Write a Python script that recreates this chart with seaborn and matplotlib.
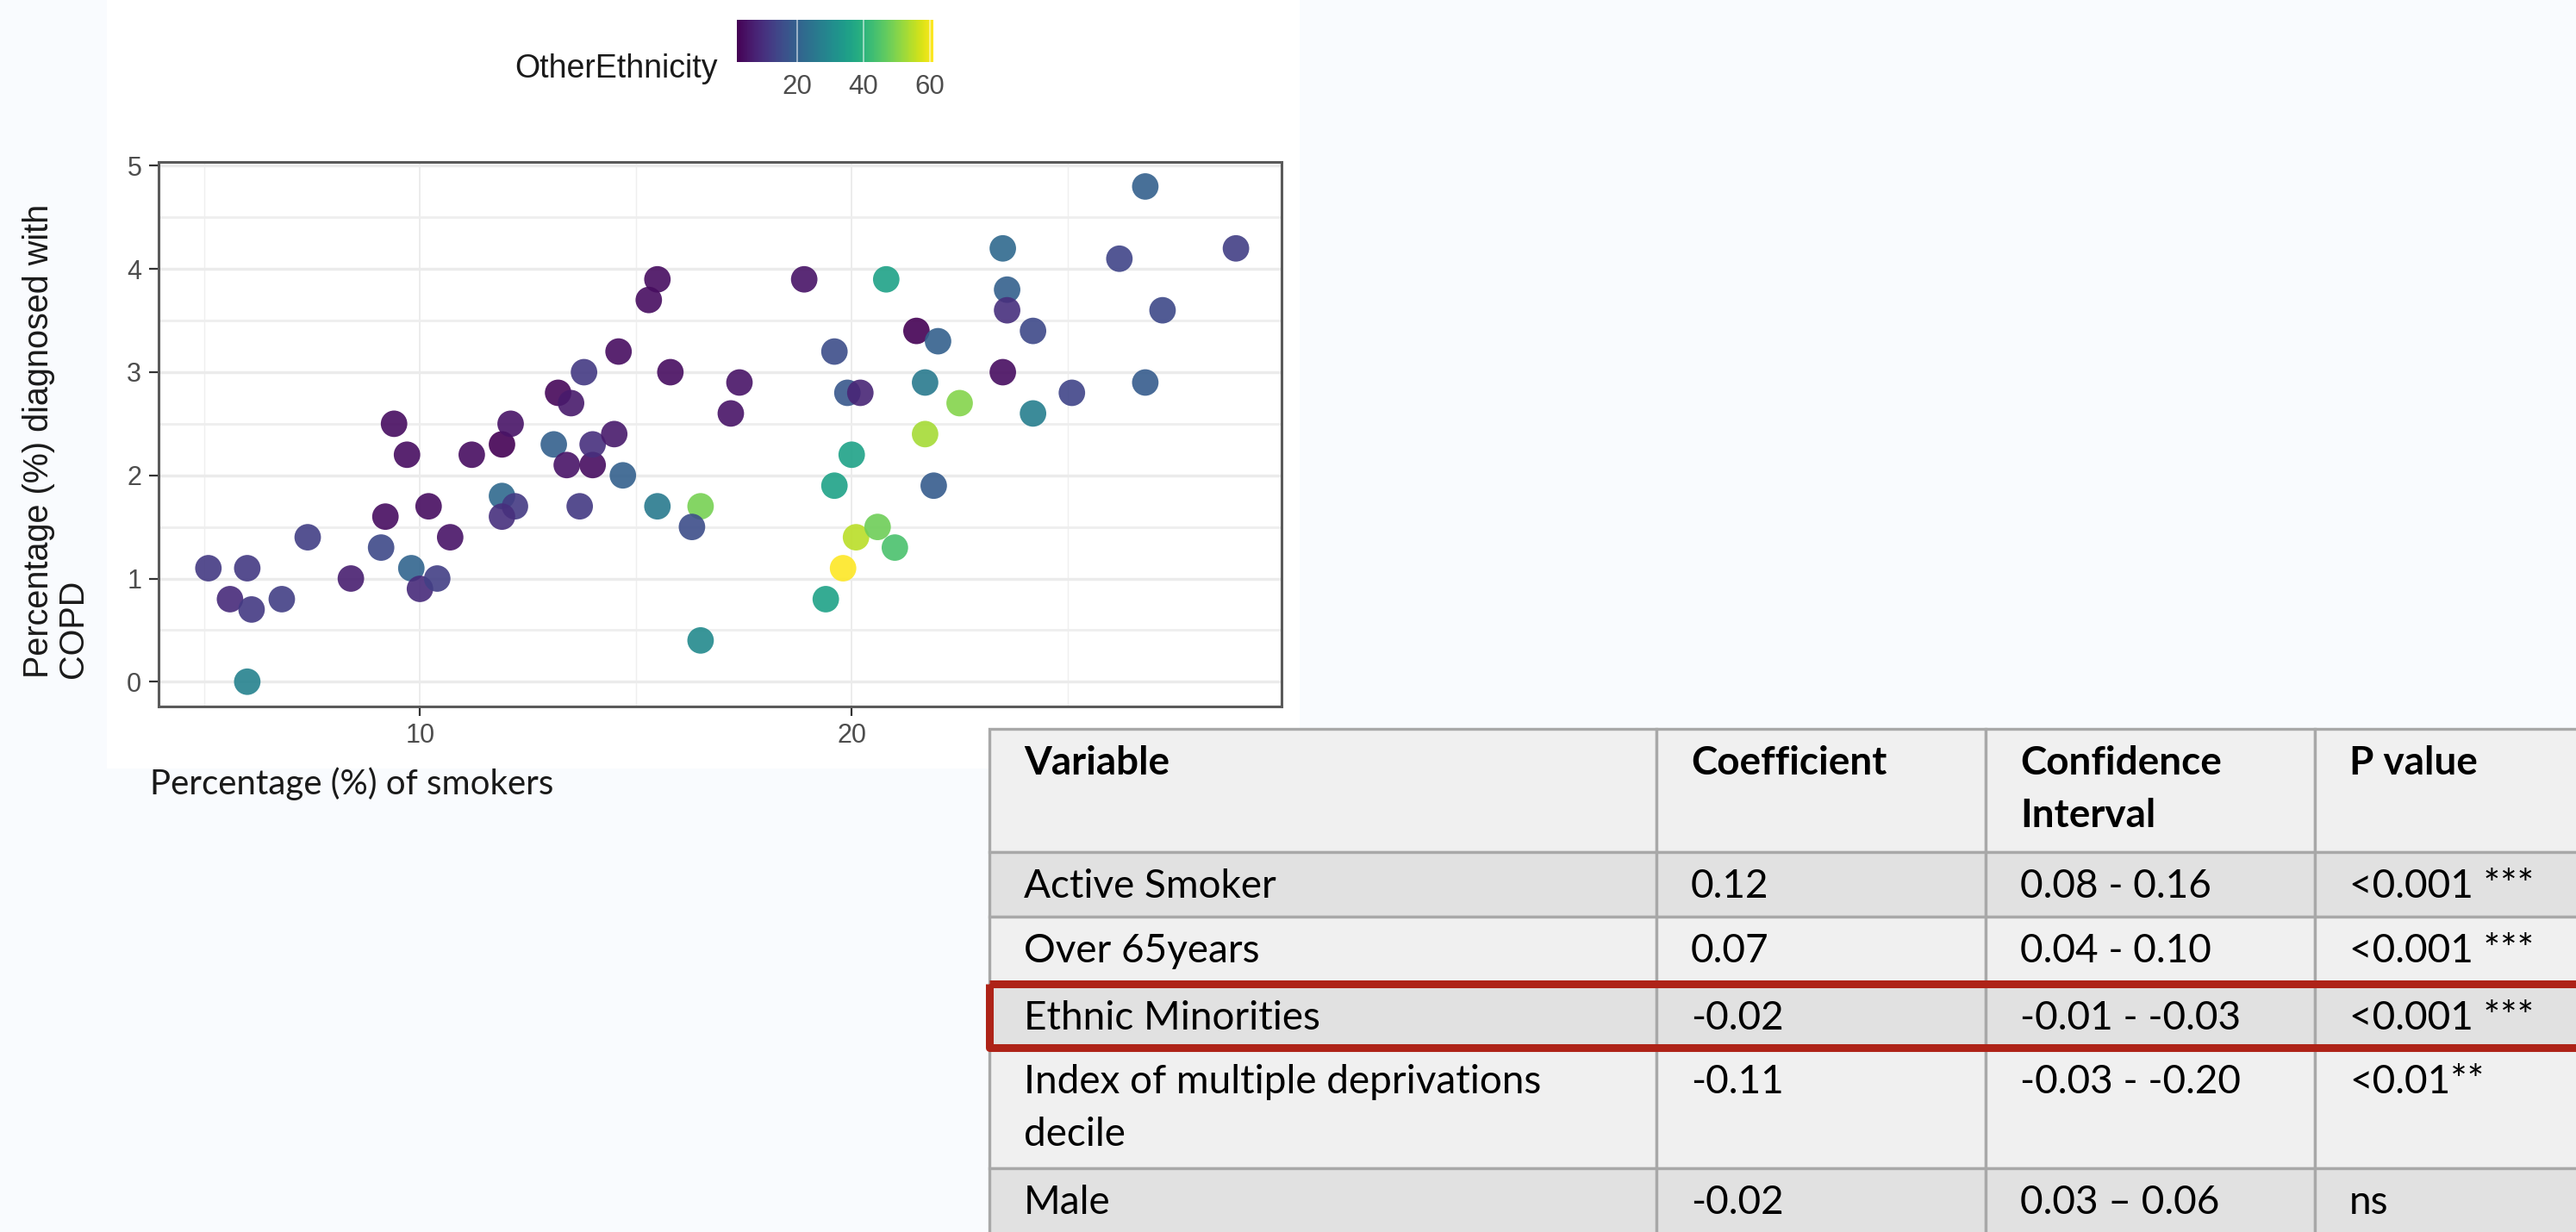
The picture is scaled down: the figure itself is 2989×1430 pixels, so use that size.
import numpy as np
import pandas as pd
import matplotlib
matplotlib.use("Agg")
import matplotlib.pyplot as plt
import matplotlib.patches as mpatches
import matplotlib.colors as mcolors
import matplotlib.cm as cm
import seaborn as sns

# scatter data
smokers = [5.1, 5.6, 6.0, 6.1, 6.8, 6.0, 7.4, 8.4, 9.2, 9.1,
           9.4, 9.7, 9.8, 10.0, 10.2, 10.4, 10.7, 11.2, 11.9, 12.1,
           11.9, 12.2, 11.9, 13.1, 13.2, 13.5, 13.4, 13.8, 14.0, 14.0,
           14.5, 14.6, 14.7, 13.7, 15.3, 15.5, 15.8, 15.5, 16.5, 16.3,
           16.5, 17.2, 17.4, 18.9, 19.6, 19.9, 20.2, 20.0, 19.6, 20.1,
           20.6, 21.0, 19.8, 19.4, 20.8, 21.5, 22.0, 21.7, 22.5, 21.7,
           21.9, 23.5, 23.6, 23.6, 23.5, 24.2, 24.2, 25.1, 26.2, 26.8,
           26.8, 27.2, 28.9]
copd = [1.1, 0.8, 1.1, 0.7, 0.8, 0.0, 1.4, 1.0, 1.6, 1.3,
        2.5, 2.2, 1.1, 0.9, 1.7, 1.0, 1.4, 2.2, 2.3, 2.5,
        1.8, 1.7, 1.6, 2.3, 2.8, 2.7, 2.1, 3.0, 2.1, 2.3,
        2.4, 3.2, 2.0, 1.7, 3.7, 3.9, 3.0, 1.7, 1.7, 1.5,
        0.4, 2.6, 2.9, 3.9, 3.2, 2.8, 2.8, 2.2, 1.9, 1.4,
        1.5, 1.3, 1.1, 0.8, 3.9, 3.4, 3.3, 2.9, 2.7, 2.4,
        1.9, 4.2, 3.8, 3.6, 3.0, 3.4, 2.6, 2.8, 4.1, 4.8,
        2.9, 3.6, 4.2]
other_ethnicity = [12, 9, 12, 12, 13, 28, 13, 7, 4, 15,
                   4, 4, 21, 9, 4, 13, 5, 4, 2, 5,
                   22, 12, 10, 20, 3, 6, 5, 12, 4, 10,
                   6, 4, 20, 12, 4, 4, 4, 26, 49, 16,
                   30, 5, 5, 5, 16, 18, 8, 36, 36, 55,
                   48, 44, 61, 36, 36, 2, 20, 26, 50, 53,
                   19, 22, 20, 10, 4, 15, 27, 14, 14, 20,
                   19, 15, 13]
x_major = [10, 20]
x_minor = [5, 15, 25]
y_major = [0, 1, 2, 3, 4, 5]
y_minor = [0.5, 1.5, 2.5, 3.5, 4.5]
cbar_ticks = [20, 40, 60]

# regression table
col_names = ["Variable", "Coefficient", "Confidence\nInterval", "P value"]
variables = ["Active Smoker", "Over 65years", "Ethnic Minorities",
             "Index of multiple deprivations\ndecile", "Male"]
coefficients = ["0.12", "0.07", "-0.02", "-0.11", "-0.02"]
conf_int = ["0.08 - 0.16", "0.04 - 0.10", "-0.01 - -0.03", "-0.03 - -0.20",
            "0.03 \u2013 0.06"]
p_values = ["<0.001 ***", "<0.001 ***", "<0.001 ***", "<0.01**", "ns"]
highlight_row = 2

df = pd.DataFrame({"smokers": smokers, "copd": copd, "OtherEthnicity": other_ethnicity})

W, H = 2989, 1430
def frac(x0, y0, x1, y1):
    return [x0 / W, 1 - y1 / H, (x1 - x0) / W, (y1 - y0) / H]

sns.set_style("white")
plt.rcParams["font.family"] = ["Liberation Sans", "DejaVu Sans"]

fig = plt.figure(figsize=(W / 100, H / 100), dpi=100, facecolor="#F9FBFE")

back = fig.add_axes([0, 0, 1, 1], zorder=0)
back.set_xlim(0, W)
back.set_ylim(H, 0)
back.axis("off")
back.add_patch(mpatches.Rectangle((124, 0), 1508 - 124, 892, facecolor="white", edgecolor="none"))

# scatter panel
ax = fig.add_axes(frac(183.7, 187.7, 1487.2, 820), zorder=1)
norm = mcolors.Normalize(min(other_ethnicity), max(other_ethnicity))
sns.scatterplot(data=df, x="smokers", y="copd", hue="OtherEthnicity", palette="viridis",
                hue_norm=norm, s=490, linewidth=0, alpha=0.9, legend=False, ax=ax, zorder=3)
ax.set_xlim(3.94, 29.96)
ax.set_ylim(-0.24, 5.04)
ax.set_xticks(x_major)
ax.set_xticks(x_minor, minor=True)
ax.set_yticks(y_major)
ax.set_yticks(y_minor, minor=True)
ax.grid(which="major", axis="y", color="#EBEBEB", lw=2.4)
ax.grid(which="minor", axis="y", color="#EEEEEE", lw=2.0)
ax.grid(which="major", axis="x", color="#EBEBEB", lw=1.3)
ax.grid(which="minor", axis="x", color="#EFEFEF", lw=1.0)
ax.set_axisbelow(True)
ax.tick_params(which="major", length=8, width=1.6, color="#333333", labelsize=22,
               labelcolor="#4D4D4D", pad=6, bottom=True, left=True)
ax.tick_params(which="minor", length=0)
for sp in ax.spines.values():
    sp.set_color("#5A5A5A")
    sp.set_linewidth(2.2)
ax.set_xlabel("")
ax.set_ylabel("")

# colour bar legend
cax = fig.add_axes(frac(855, 23, 1083, 72), zorder=1)
cb = fig.colorbar(cm.ScalarMappable(norm=norm, cmap="viridis"), cax=cax, orientation="horizontal")
cb.set_ticks(cbar_ticks)
cb.outline.set_visible(False)
cax.tick_params(length=0, labelsize=22.5, labelcolor="#4D4D4D", pad=10)
for t in cbar_ticks:
    cax.axvline(t, color="white", lw=1.2, alpha=0.6)
back.text(833, 90, "OtherEthnicity", ha="right", va="baseline", fontsize=27, color="#1A1A1A")

# slide text labels
back.text(65, 787, "Percentage (%) diagnosed with\nCOPD", rotation=90, ha="center", va="bottom",
          multialignment="left", fontsize=28.5, color="#1A1A1A", linespacing=1.05)
back.text(174, 922, "Percentage (%) of smokers", ha="left", va="baseline", fontsize=29,
          family=["Lato", "DejaVu Sans"], color="#1A1A1A")

# table
front = fig.add_axes([0, 0, 1, 1], zorder=2)
front.set_xlim(0, W)
front.set_ylim(H, 0)
front.axis("off")
col_edges = [1148, 1922, 2304, 2686, 3100]
row_edges = [846, 989, 1064, 1142, 1216, 1356, 1440]
row_fill = ["#F0F0F0", "#E1E1E1", "#F0F0F0", "#E1E1E1", "#F0F0F0", "#E1E1E1"]
rows = [col_names] + [list(r) for r in zip(variables, coefficients, conf_int, p_values)]
for i, row in enumerate(rows):
    y0, y1 = row_edges[i], row_edges[i + 1]
    for j, txt in enumerate(row):
        x0, x1 = col_edges[j], col_edges[j + 1]
        front.add_patch(mpatches.Rectangle((x0, y0), x1 - x0, y1 - y0, facecolor=row_fill[i],
                                           edgecolor="#A8A8A8", lw=2.4))
        for k, line in enumerate(txt.split("\n")):
            front.text(x0 + 40, y0 + 53 + 61 * k, line, ha="left", va="baseline", fontsize=33,
                       family=["Lato", "DejaVu Sans"], fontweight="bold" if i == 0 else "normal",
                       color="black")
hy0, hy1 = row_edges[highlight_row + 1], row_edges[highlight_row + 2]
front.add_patch(mpatches.Rectangle((col_edges[0], hy0), 3100 - col_edges[0], hy1 - hy0,
                                   facecolor="none", edgecolor="#AE2318", lw=6.5, joinstyle="round"))

fig.savefig("out.png", dpi=100, facecolor=fig.get_facecolor())
